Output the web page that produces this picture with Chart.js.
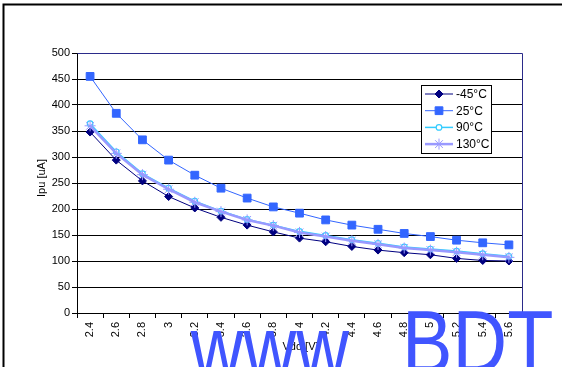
<!DOCTYPE html>
<html><head><meta charset="utf-8">
<script src="https://cdn.jsdelivr.net/npm/chart.js@4/dist/chart.umd.min.js"></script>
<style>html,body{margin:0;padding:0;background:#fff;overflow:hidden}</style>
</head><body>
<canvas id="c" width="562" height="367"></canvas>
<script>
const categories = ['2.4','2.6','2.8','3','3.2','3.4','3.6','3.8','4','4.2','4.4','4.6','4.8','5','5.2','5.4','5.6'];
const seriesNames = ['-45°C','25°C','90°C','130°C'];
const valuesM45 = [348, 294, 254, 224, 202, 184, 169, 156, 144, 137, 128, 121, 116, 112, 105, 101, 100];
const values25  = [455, 384, 333, 294, 265, 240, 221, 204, 192, 179, 169, 161, 153, 147, 140, 135, 131];
const values90  = [364, 310, 268, 240, 215, 196, 180, 169, 157, 149, 141, 134, 127, 123, 119, 114, 109];
const values130 = [360, 307, 266, 238, 213, 195, 179, 168, 155, 147, 139, 132, 125, 121, 117, 112, 107];
const yTickMin = 0, yTickMax = 500, yTickStep = 50;
const xTitle = 'Vdd [V]';
const yTitle = 'Ipu [uA]';

const FONT = '"Liberation Sans", Arial, sans-serif';

const datasets = [
  {label: seriesNames[0], data: valuesM45, borderColor:'#000080', backgroundColor:'#000080', borderWidth:1,
   pointStyle:'rectRot', pointRadius:4, pointBorderWidth:1, order:4},
  {label: seriesNames[1], data: values25, borderColor:'#3366FF', backgroundColor:'#3366FF', borderWidth:1,
   pointStyle:'rect', pointRadius:5.5, pointBorderWidth:1, order:3},
  {label: seriesNames[2], data: values90, borderColor:'#33CCFF', backgroundColor:'#FFFFFF', borderWidth:1.5,
   pointStyle:'circle', pointRadius:2.8, pointBorderWidth:1.2, order:2},
  {label: seriesNames[3], data: values130, borderColor:'#9999FF', backgroundColor:'#9999FF', borderWidth:2.5,
   pointStyle:'star', pointRadius:5.5, pointBorderWidth:1, order:1}
];
datasets.forEach(d => { d.tension = 0; d.fill = false; d.pointBackgroundColor = d.backgroundColor; d.pointBorderColor = d.borderColor; });

const decor = {
  id: 'decor',
  beforeDraw(chart) {
    const ctx = chart.ctx;
    ctx.save();
    ctx.fillStyle = '#fff';
    ctx.fillRect(0, 0, chart.width, chart.height);
    ctx.strokeStyle = '#000';
    ctx.lineWidth = 2;
    ctx.beginPath();
    ctx.moveTo(3.5, 400); ctx.lineTo(3.5, 4.5); ctx.lineTo(600, 4.5);
    ctx.stroke();
    ctx.restore();
  },
  beforeDatasetsDraw(chart) {
    const ctx = chart.ctx, a = chart.chartArea;
    ctx.save();
    ctx.strokeStyle = '#2b2b8a';
    ctx.lineWidth = 1;
    ctx.beginPath();
    ctx.moveTo(Math.round(a.left) + 0.5, Math.round(a.top) + 0.5);
    ctx.lineTo(Math.round(a.right) + 0.5, Math.round(a.top) + 0.5);
    ctx.lineTo(Math.round(a.right) + 0.5, Math.round(a.bottom) + 0.5);
    ctx.stroke();
    ctx.restore();
  },
  afterDraw(chart) {
    const ctx = chart.ctx, a = chart.chartArea;
    ctx.save();
    // axis titles
    ctx.fillStyle = '#000';
    ctx.font = '11px ' + FONT;
    ctx.textAlign = 'center';
    ctx.textBaseline = 'middle';
    ctx.fillText(xTitle, (a.left + a.right) / 2 + 1, 347);
    ctx.save();
    ctx.translate(42, 178);
    ctx.rotate(-Math.PI / 2);
    ctx.fillText(yTitle, 0, 0);
    ctx.restore();

    // legend
    const bx = 421.5, by = 85.5, bw = 70, bh = 68;
    ctx.fillStyle = '#fff';
    ctx.fillRect(bx, by, bw, bh);
    ctx.strokeStyle = '#000';
    ctx.lineWidth = 1;
    ctx.strokeRect(bx, by, bw, bh);
    ctx.font = '12px ' + FONT;
    ctx.textAlign = 'left';
    ctx.textBaseline = 'middle';
    chart.data.datasets.forEach((d, i) => {
      const y = 94 + i * 16.7;
      ctx.strokeStyle = d.borderColor;
      ctx.lineWidth = d.borderWidth;
      ctx.beginPath();
      ctx.moveTo(425, y); ctx.lineTo(453, y);
      ctx.stroke();
      ctx.fillStyle = d.pointBackgroundColor;
      ctx.strokeStyle = d.pointBorderColor;
      ctx.lineWidth = d.pointBorderWidth;
      Chart.helpers.drawPoint(ctx, {pointStyle: d.pointStyle, radius: d.pointRadius, rotation: 0, borderWidth: d.pointBorderWidth}, 439, y);
      ctx.fillStyle = '#000';
      ctx.fillText(d.label, 456, y + 0.5);
    });

    // watermark
    ctx.fillStyle = '#4055FF';
    ctx.font = '89px ' + FONT;
    ctx.textAlign = 'left';
    ctx.textBaseline = 'alphabetic';
    const drawScaled = (txt, left, base, sx) => {
      ctx.save();
      ctx.translate(left, base);
      ctx.scale(sx, 1);
      const m = ctx.measureText(txt);
      ctx.fillText(txt, m.actualBoundingBoxLeft, 0);
      ctx.restore();
    };
    drawScaled('www', 190, 378, 0.82);
    drawScaled('BDT', 408, 373, 0.85);
    ctx.restore();
  }
};

new Chart(document.getElementById('c'), {
  type: 'line',
  data: {labels: categories, datasets},
  options: {
    responsive: false,
    animation: false,
    devicePixelRatio: 1,
    layout: {padding: {left: 0, top: 53, right: 40, bottom: 0}},
    plugins: {legend: {display: false}, tooltip: {enabled: false}},
    scales: {
      x: {
        type: 'category',
        offset: true,
        grid: {offset: true, drawOnChartArea: false, color: '#000', tickLength: 5, tickWidth: 1},
        border: {color: '#000', width: 1},
        ticks: {minRotation: 90, maxRotation: 90, autoSkip: false, padding: 4, color: '#000', font: {family: FONT, size: 11}},
        afterFit(s) { s.height = 54; }
      },
      y: {
        min: yTickMin, max: yTickMax,
        grid: {color: '#000', lineWidth: 1, tickLength: 5},
        border: {color: '#000', width: 1},
        ticks: {stepSize: yTickStep, padding: 2, color: '#000', font: {family: FONT, size: 11}},
        afterFit(s) { s.width = 77; }
      }
    }
  },
  plugins: [decor]
});
</script>
</body></html>
